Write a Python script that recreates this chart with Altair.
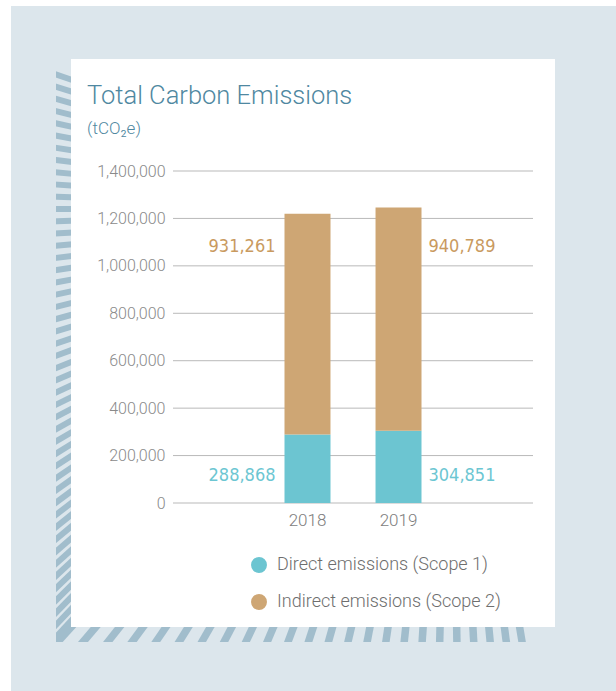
import altair as alt
import pandas as pd

# ---------------- data ----------------
years = ["2018", "2019"]
direct = [288868, 304851]
indirect = [931261, 940789]
series = ["Direct emissions (Scope 1)", "Indirect emissions (Scope 2)"]
y_ticks = [0, 200000, 400000, 600000, 800000, 1000000, 1200000, 1400000]

# ---------------- styles ----------------
FONT = "Roboto"
NUM_FONT = "'DejaVu Sans Condensed', 'Liberation Sans Narrow', 'Arial Narrow', 'Roboto Condensed', Roboto"
TEAL, TAN = "#6cc5d1", "#cea674"
TEAL_TXT, TAN_TXT = "#6cc6d2", "#c99a5f"
BG, STRIPE, CARD = "#dce6ec", "#a1bdcc", "#ffffff"
GRID = "#b9b9b9"
TITLE_C = "#4f88a1"

OX, OY = 173, 171          # plot-area origin in page pixels
W, H = 360, 332            # plot-area size

rows = []
for i, yr in enumerate(years):
    rows.append({"year": yr, "type": series[0], "value": direct[i], "rank": 0})
    rows.append({"year": yr, "type": series[1], "value": indirect[i], "rank": 1})
df = pd.DataFrame(rows)

# ---------------- decoration (frame, card, hatched border) ----------------
one = pd.DataFrame({"k": [0]})


def rect(x1, y1, x2, y2, color):
    return alt.Chart(one).mark_rect(color=color).encode(
        x=alt.value(x1 - OX), x2=alt.value(x2 - OX),
        y=alt.value(y1 - OY), y2=alt.value(y2 - OY))


FX, FY = 450.0, 210.0       # vanishing point of the hatch fan
left = []
yy = 77.0
while yy < 637:
    m = (FY - yy) / (FX - 63.5)
    xa, xb = 50.0, 78.0
    left.append({"px": xa - OX, "py": yy + m * (xa - 63.5) - OY,
                 "px2": xb - OX, "py2": yy + m * (xb - 63.5) - OY})
    yy += 12.0
bottom = []
xx = 64.0
while xx < 533:
    dx, dy = FX - xx, FY - 635.0
    xt = xx + dx * (620.0 - 635.0) / dy
    xbt = xx + dx * (650.0 - 635.0) / dy
    bottom.append({"px": xt - OX, "py": 620.0 - OY, "px2": xbt - OX, "py2": 650.0 - OY})
    xx += 25.0 - 10.0 * (xx - 60.0) / 470.0


def hatch(data, width):
    return alt.Chart(pd.DataFrame(data)).mark_rule(color=STRIPE, strokeWidth=width).encode(
        x=alt.X("px:Q", scale=None), y=alt.Y("py:Q", scale=None),
        x2="px2:Q", y2="py2:Q")


deco = [
    rect(11, 6, 616, 691, BG),
    hatch(left, 6),
    hatch(bottom, 7.5),
    rect(11, 6, 56, 691, BG),
    rect(11, 642, 616, 691, BG),
    rect(71, 59, 555, 627, CARD),
]

# ---------------- chart ----------------
yscale = alt.Scale(domain=[0, 1400000], nice=False, zero=True)
xscale = alt.Scale(paddingInner=0.495, paddingOuter=0, range=[111.5, 248.5])
yaxis = alt.Axis(title=None, values=y_ticks, format=",.0f", ticks=False, domain=False,
                 grid=False, labelFontSize=16, labelColor="#8a8a8a", labelPadding=8,
                 labelFont=FONT, labelFontWeight=300, zindex=1)

grid = alt.Chart(pd.DataFrame({"v": y_ticks})).mark_rule(color=GRID, strokeWidth=1).encode(
    y=alt.Y("v:Q", scale=yscale, axis=yaxis))

bars = alt.Chart(df).mark_bar().encode(
    x=alt.X("year:N", scale=xscale, sort=years,
            axis=alt.Axis(title=None, labelAngle=0, ticks=False, domain=False,
                          labelFontSize=17, labelColor="#7d7d7d", labelPadding=9,
                          labelFont=FONT, labelFontWeight=300, zindex=1)),
    y=alt.Y("value:Q", stack="zero", scale=yscale, axis=yaxis),
    color=alt.Color("type:N", scale=alt.Scale(domain=series, range=[TEAL, TAN]),
                    legend=alt.Legend(title=None, orient="none", legendX=77, legendY=385,
                                      symbolType="circle", symbolSize=254, symbolStrokeWidth=0,
                                      symbolOpacity=1, labelFontSize=18, labelColor="#6e6e6e",
                                      labelFont=FONT, labelFontWeight=300, labelOffset=9,
                                      labelLimit=400, rowPadding=19, padding=0, symbolOffset=0)),
    order=alt.Order("rank:Q", sort="ascending"),
)

label_base = alt.Chart(df).transform_calculate(
    ly="datum.rank == 0 ? 112000 : 1080000")


def labels(year, align, dx):
    return label_base.transform_filter(alt.datum.year == year).mark_text(
        align=align, dx=dx, baseline="middle", font=NUM_FONT, fontSize=18).encode(
        x=alt.X("year:N", scale=xscale, sort=years),
        y=alt.Y("ly:Q", scale=yscale, axis=yaxis),
        text=alt.Text("value:Q", format=",.0f"),
        color=alt.condition(alt.datum.rank == 0, alt.value(TEAL_TXT), alt.value(TAN_TXT)),
    )


chart = alt.layer(
    *deco, grid, bars, labels("2018", "right", -32), labels("2019", "left", 30)
).properties(
    width=W, height=H,
    autosize=alt.AutoSizeParams(type="none"),
    padding={"left": OX, "top": OY, "right": 616 - OX - W, "bottom": 691 - OY - H},
    title=alt.TitleParams(
        text="Total Carbon Emissions", subtitle="(tCO₂e)", anchor="start", frame="group",
        dx=-86, offset=-131, font=FONT, fontWeight=300, fontSize=25.5, color=TITLE_C,
        subtitleFont=FONT, subtitleFontWeight=300, subtitleFontSize=17,
        subtitleColor=TITLE_C, subtitlePadding=12),
).configure_view(strokeWidth=0).configure(background="white")

chart.save("out.html", embed_options={"renderer": "svg", "actions": False})
